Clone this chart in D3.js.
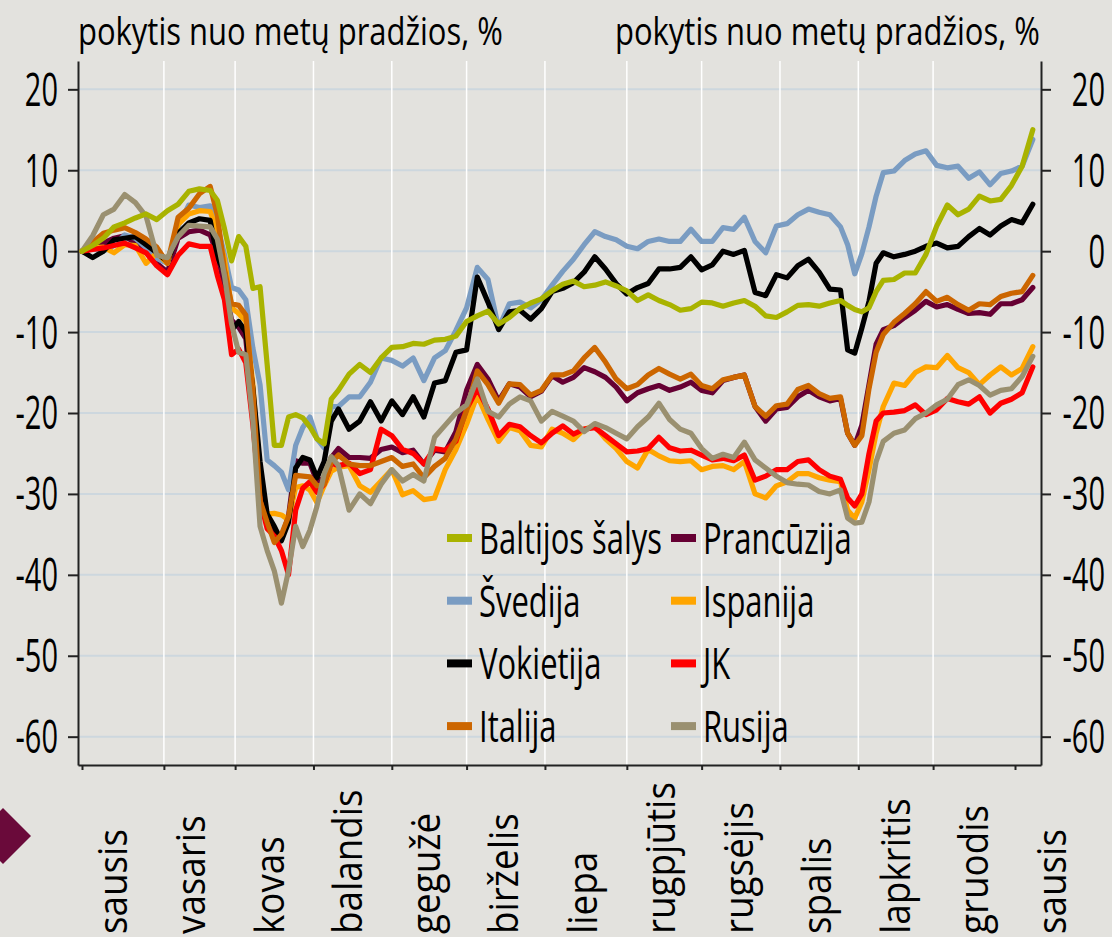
<!DOCTYPE html>
<html><head><meta charset="utf-8">
<script src="https://cdn.jsdelivr.net/npm/d3@7"></script>
<style>
html,body{margin:0;padding:0;background:#e3e2de;}
svg{display:block;}
text{font-family:"Open Sans",sans-serif;fill:#000;}
</style></head><body>
<svg id="chart" width="1112" height="937"></svg>
<script>
// x = weekday index of 2020 (0 = 1 Jan 2020)
const days = [0,3,6,9,12,15,18,21,24,27,30,33,36,
 38,40,42,44,46,48,50,52,54,56,58,60,62,64,66,68,70,72,
 75,78,81,84,87,90,93,96,99,102,105,108,111,114,117,120,123,126,129,132,135,138,141,144,147,150,153,156,159,162,165,168,171,174,177,180,183,186,189,192,195,198,201,204,207,210,213,
 215,217,219,221,223,225,
 228,231,234,237,240,243,246,249,252,255,258,261,264,267];

const baltic = [0,0.7,1.6,3.0,3.5,4.1,4.6,3.9,5.0,5.8,7.4,7.7,7.5,
 6.3,2.8,-1.2,1.8,0.6,-4.6,-4.4,-14,-24,-24,-20.5,-20.2,-20.6,-21.7,-23.2,-23.8,-18.3,-17.2,
 -15.2,-14,-15,-13.2,-11.9,-11.8,-11.4,-11.5,-11,-10.9,-10.5,-8.7,-8,-7.4,-9,-8.2,-7.1,-6.4,-5.9,-4.9,-4.1,-3.7,-4.4,-4.2,-3.8,-4.3,-4.9,-6.1,-5.4,-6.1,-6.6,-7.3,-7.1,-6.3,-6.4,-6.8,-6.4,-6.1,-6.8,-8,-8.2,-7.5,-6.7,-6.6,-6.8,-6.4,-6.1,
 -6.7,-7.2,-7.5,-7.0,-5,-3.6,
 -3.5,-2.7,-2.7,-0.4,3.1,5.7,4.5,5.2,6.8,6.2,6.4,8.1,10.5,15];

const sweden = [0,0.3,0,0.7,2.0,1.6,0.4,-0.9,-1.5,3.1,5.7,5.4,5.6,
 3.2,-0.4,-4.5,-4.8,-6,-12,-16.5,-25.8,-26.5,-27.3,-29.5,-24,-21.8,-20.5,-23.2,-24.3,-19.2,-19.2,
 -18,-18,-16.2,-13.2,-13.5,-14.2,-13.2,-16,-13.2,-12.3,-9.8,-7,-2,-3.5,-9.5,-6.5,-6.3,-7,-6,-4.2,-2.5,-1,0.8,2.4,1.8,1.4,0.6,0.3,1.2,1.5,1.2,1.2,2.7,1.2,1.2,2.9,2.7,4.2,1.2,-0.2,3.1,3.4,4.5,5.2,4.8,4.5,3,
 0.8,-2.8,-0.3,3,6.8,9.7,
 9.9,11.2,12,12.4,10.6,10.3,10.5,9,9.8,8.2,9.6,9.9,10.5,13.8];

const germany = [0,-0.8,0,1.4,1.6,1.8,0.8,-0.2,-1.3,2.2,3.5,4,3.8,
 -0.8,-2.5,-9.8,-8.7,-10,-17,-26,-32.5,-34,-35.8,-33.5,-26.8,-25.5,-25.8,-28,-26,-21,-19.5,
 -22,-21,-18.6,-21,-18.5,-20.2,-18,-20.5,-16.3,-16,-12.5,-12.2,-3.2,-6.3,-9.7,-7.5,-7.3,-8.4,-7.1,-5,-4.6,-3.9,-2.6,-0.7,-2.2,-4,-5.3,-4.5,-4,-2.2,-2.2,-2,-0.7,-2.3,-1.7,0,-0.4,0.1,-5.1,-5.5,-2.9,-3.3,-1.8,-1,-2.6,-4.7,-4.8,
 -12.2,-12.6,-9.5,-6.2,-1.5,-0.2,
 -0.7,-0.4,0,0.6,1,0.4,0.6,1.8,2.8,2,3.1,3.9,3.5,5.8];

const france = [0,1.2,1.0,1.6,1.9,1.0,0.0,-1.5,-2.6,1.6,2.4,2.6,2.0,
 -0.5,-4.2,-8.5,-9.4,-10.8,-19.8,-30,-33.6,-34.7,-35.3,-32.8,-25.9,-26.2,-26.2,-28.5,-28,-25.5,-24.4,
 -25.5,-25.5,-25.6,-24.5,-24.2,-24.9,-24.6,-26.3,-24.6,-24.8,-22.3,-17.2,-14,-15.8,-18.5,-16.4,-16.8,-18,-17.3,-15.4,-16.2,-15.6,-14.4,-14.9,-15.6,-16.8,-18.5,-17.5,-17,-16.6,-17.2,-16.8,-16.2,-17.2,-17.5,-16,-15.6,-15.3,-19.2,-21,-19.5,-19.3,-18,-17.2,-18,-18.5,-18.2,
 -22.5,-24,-21.5,-16.5,-11.5,-9.7,
 -9.2,-8.2,-7.3,-6.2,-6.9,-6.6,-7.2,-7.7,-7.6,-7.8,-6.5,-6.5,-6,-4.5];

const italy = [0,1.1,2.2,2.6,2.9,2.3,1.5,0.5,-1.5,4.2,5.3,7.1,8.0,
 4.5,-2.3,-6.5,-6.7,-7.9,-17.3,-30.8,-33.5,-36,-35,-32.8,-27.7,-27.8,-27.9,-29,-28.8,-26.1,-25.2,
 -26.3,-26.5,-26.5,-26,-25.5,-26.6,-26.3,-28,-26.6,-25.6,-23.2,-19.7,-14.8,-16.5,-18.8,-16.4,-16.5,-17.8,-17.2,-15.3,-15.3,-14.8,-13.2,-11.9,-13.7,-15.8,-17,-16.5,-15.3,-14.5,-15.2,-15.8,-15.2,-16.6,-17,-15.9,-15.6,-15.3,-19.2,-20.4,-19.1,-18.9,-17.1,-16.6,-17.6,-18.2,-18,
 -22.5,-24,-22.8,-17,-12.5,-10.3,
 -8.8,-7.7,-6.5,-5,-6.2,-5.7,-6.6,-7.3,-6.5,-6.6,-5.6,-5.2,-5,-3];

const spain = [0,0.4,0.5,-0.2,0.8,0.7,-1.5,-0.2,-1.5,3.3,4.6,5,4.9,
 2.5,-1,-7,-7.7,-8.7,-16.5,-28.7,-32.5,-32.4,-32.6,-33.2,-29.2,-29,-29.5,-31.1,-29,-27.2,-26.7,
 -26.5,-29,-29.8,-28.4,-27,-30.1,-29.6,-30.7,-30.5,-27,-24.5,-21.4,-17.8,-20.8,-23.5,-21.8,-22.2,-24,-24.2,-22,-22.5,-23.3,-22,-21.6,-23.2,-24.4,-26,-26.8,-24.5,-25.3,-25.9,-26,-25.9,-27,-26.6,-26.5,-27,-26,-30,-30.5,-29,-28.5,-27.5,-27.5,-28,-28.3,-28.5,
 -32,-33,-31,-27,-22.5,-19.2,
 -16.3,-16.6,-15,-14.3,-14.4,-12.9,-14.4,-15,-16.5,-15.3,-14.3,-15.3,-14.5,-11.8];

const uk = [0,0.2,0.4,0.7,1,0.4,-0.2,-1.8,-2.9,-0.5,0.9,0.6,0.6,
 -3,-6,-12.8,-12.1,-13.8,-21.5,-30.8,-34.3,-35.2,-37,-40,-32,-29.3,-28.5,-29.8,-28.8,-26.2,-26.5,
 -26.2,-27.5,-27,-22,-22.8,-24.5,-25,-26.3,-24.4,-24.6,-23.5,-19.5,-17,-19.5,-22.8,-21.4,-21.7,-22.8,-23.7,-22.5,-21.6,-22.6,-22,-21.8,-22.8,-23.8,-24.8,-24.7,-24.4,-23,-24.3,-24.7,-24.6,-25.2,-25.8,-25.6,-25.9,-25.2,-28.3,-27.8,-27,-27,-26,-25.8,-27,-27.8,-28.2,
 -30.5,-31.5,-30,-25,-21,-20,
 -19.9,-19.7,-19,-20.2,-19.6,-18.2,-18.6,-18.9,-18,-20,-18.8,-18.3,-17.5,-14.3];

const russia = [0,1.9,4.5,5.2,7.0,6.0,4.3,-0.5,-0.8,1.8,3.2,3.1,3,
 1.5,-3,-9,-12.5,-12.8,-21,-34,-37,-39.5,-43.5,-39.5,-34,-36.5,-34.5,-31.5,-27.5,-25.4,-26.5,
 -32,-30,-31.2,-28.8,-27,-28.4,-27.6,-28.4,-23,-21.5,-20,-19,-15.8,-19.8,-20.5,-18.9,-18,-18.5,-21,-19.8,-20.4,-21,-22.3,-21.3,-21.8,-22.5,-23.2,-21.7,-20.5,-18.8,-20.8,-22,-22.5,-24.4,-25.6,-25.1,-25.5,-23.6,-25.8,-26.8,-27.8,-28.6,-28.8,-28.9,-29.7,-30,-29.5,
 -33,-33.6,-33.5,-31,-26,-23.5,
 -22.5,-22.1,-20.7,-20,-19,-18.3,-16.5,-15.9,-16.6,-17.8,-17.2,-17,-15.5,-13];

const yTicks = [-60,-50,-40,-30,-20,-10,0,10,20];
const monthStarts = [0,23,43,65,87,108,130,153,174,196,218,239,262];
const monthLabels = ["sausis","vasaris","kovas","balandis","gegužė","birželis","liepa","rugpjūtis","rugsėjis","spalis","lapkritis","gruodis","sausis"];
const titleText = "pokytis nuo metų pradžios, %";

// legend order (row-wise) and styles
const seriesNames = ["Baltijos šalys","Prancūzija","Švedija","Ispanija","Vokietija","JK","Italija","Rusija"];
const seriesData = [baltic, france, sweden, spain, germany, uk, italy, russia];
const seriesColors = ["#a9b300","#660033","#7a9cc2","#ffa500","#000000","#ff0000","#cc6600","#9a9070"];
const drawOrder = [1,2,3,4,5,6,7,0];

seriesData.forEach((s,i)=>{ if(s.length!==days.length) throw new Error(seriesNames[i]+" length "+s.length+" vs "+days.length); });

const W=1112,H=937;
const svg=d3.select("#chart");
svg.append("rect").attr("width",W).attr("height",H).attr("fill","#e3e2de");

const x=d3.scaleLinear().domain([-1.12,269.3]).range([78,1041]);
const y=d3.scaleLinear().domain([-63.5,23.5]).range([765,61]);

// grid
svg.append("g").selectAll("line").data(yTicks).join("line")
  .attr("x1",x(-1.12)).attr("x2",x(269.3)).attr("y1",d=>y(d)).attr("y2",d=>y(d))
  .attr("stroke","#cdd7de").attr("stroke-width",2);
svg.append("g").selectAll("line").data(monthStarts.slice(1,-1)).join("line")
  .attr("x1",d=>x(d)).attr("x2",d=>x(d)).attr("y1",y(23.5)).attr("y2",y(-63.5))
  .attr("stroke","#ffffff").attr("stroke-width",1.5);

// axes
const axL=svg.append("g").attr("transform",`translate(${x(-1.12)},0)`)
  .call(d3.axisLeft(y).tickValues(yTicks).tickSize(10).tickSizeOuter(0).tickFormat(()=>""));
const axR=svg.append("g").attr("transform",`translate(${x(269.3)},0)`)
  .call(d3.axisRight(y).tickValues(yTicks).tickSize(10).tickSizeOuter(0).tickFormat(()=>""));
const axB=svg.append("g").attr("transform",`translate(0,${y(-63.5)})`)
  .call(d3.axisBottom(x).tickValues(monthStarts).tickSize(5).tickSizeOuter(0).tickFormat(()=>""));
[axL,axR,axB].forEach(a=>{a.selectAll("path,line").attr("stroke","#222").attr("stroke-width",2);});

// y labels
svg.append("g").selectAll("text").data(yTicks).join("text")
  .attr("transform",d=>`translate(58,${y(d)}) scale(0.63,1)`)
  .attr("dy","0.357em").attr("text-anchor","end").attr("font-size",46).text(d=>String(d));
svg.append("g").selectAll("text").data(yTicks).join("text")
  .attr("transform",d=>`translate(1105,${y(d)}) scale(0.63,1)`)
  .attr("dy","0.357em").attr("text-anchor","end").attr("font-size",46).text(d=>String(d));

// titles (condensed to the reference width by a horizontal scale)
[78,615].forEach(tx=>{
  const t=svg.append("text").attr("font-size",39).text(titleText);
  const len=t.node().getComputedTextLength()||507;
  t.attr("transform",`translate(${tx},45) scale(${425/len},1)`);
});

// month labels
const lx=d3.scaleLinear().domain([0,monthLabels.length-1]).range([127,1066]);
svg.append("g").selectAll("text").data(monthLabels).join("text")
  .attr("transform",(d,i)=>`translate(${lx(i)},934) rotate(-90) scale(0.92,1)`)
  .attr("text-anchor","start").attr("font-size",40).text(d=>d);

// diamond marker
svg.append("path").attr("d",d3.symbol().type(d3.symbolSquare).size(1568)())
  .attr("transform","translate(3,836) rotate(45)").attr("fill","#6a0a3a");

// lines
const line=d3.line().x((d,i)=>x(days[i])).y(d=>y(d));
svg.append("g").selectAll("path").data(drawOrder).join("path")
  .attr("d",i=>line(seriesData[i])).attr("fill","none")
  .attr("stroke",i=>seriesColors[i]).attr("stroke-width",5.2)
  .attr("stroke-linejoin","round").attr("stroke-linecap","round");

// legend
const lg=svg.append("g");
seriesNames.forEach((n,i)=>{
  const col=i%2,row=Math.floor(i/2);
  const cy=538+62.7*row;
  const sx=col===0?447:671, tx=col===0?479:703;
  lg.append("rect").attr("x",sx).attr("y",cy-4).attr("width",25).attr("height",8).attr("fill",seriesColors[i]);
  lg.append("text").attr("transform",`translate(${tx},${cy+16}) scale(0.72,1)`).attr("font-size",43).text(n);
});
</script>
</body></html>
